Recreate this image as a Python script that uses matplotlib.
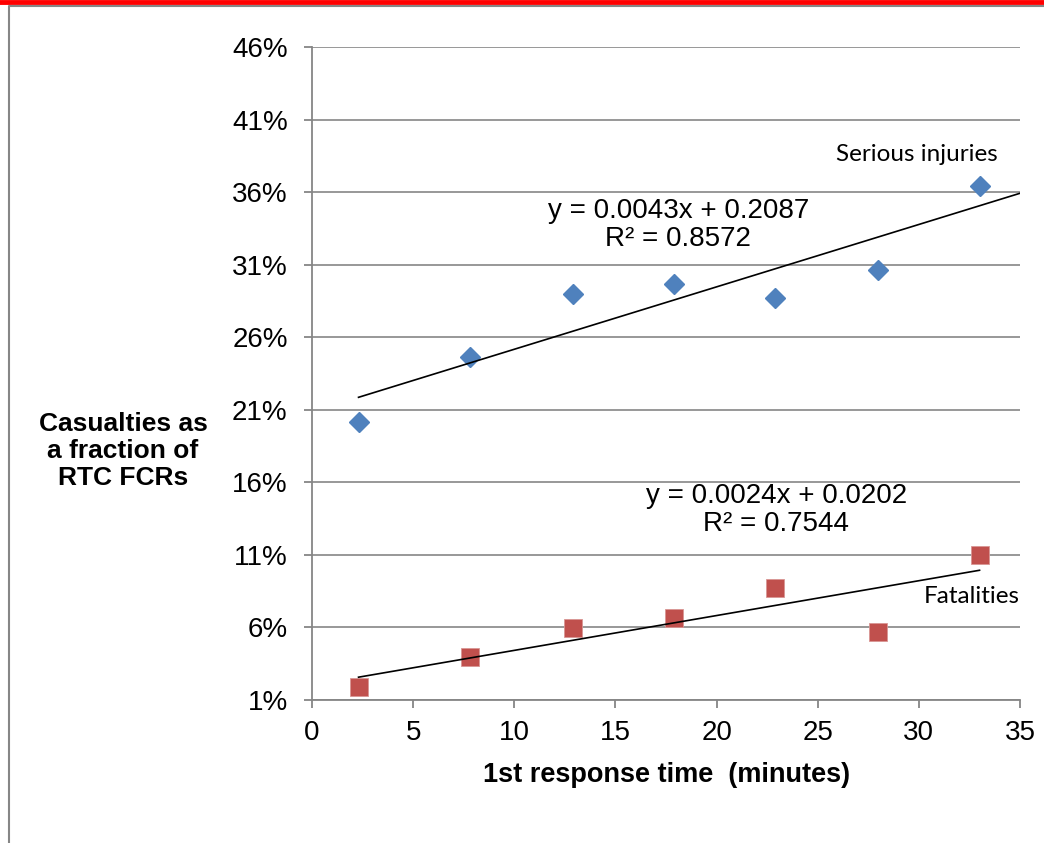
import matplotlib.pyplot as plt
from matplotlib.lines import Line2D
from matplotlib.ticker import PercentFormatter, MultipleLocator

# data
response_time = [2.3, 7.8, 12.9, 17.9, 22.9, 28.0, 33.0]
serious_injuries = [0.2016, 0.2464, 0.2898, 0.2967, 0.2870, 0.3063, 0.3642]
fatalities = [0.019, 0.0396, 0.0596, 0.0665, 0.0872, 0.0568, 0.110]

# linear trendlines as printed on the chart
serious_fit = (0.0043, 0.2087)
fatal_fit = (0.0024, 0.0202)
serious_fit_x = [2.3, 35]
fatal_fit_x = [2.3, 33]

serious_label = "y = 0.0043x + 0.2087\nR² = 0.8572"
fatal_label = "y = 0.0024x + 0.0202\nR² = 0.7544"

y_ticks = [0.01, 0.06, 0.11, 0.16, 0.21, 0.26, 0.31, 0.36, 0.41, 0.46]

grey = "#868686"
blue = "#4F81BD"
red = "#C0504D"

plt.rcParams['font.family'] = ['Liberation Sans', 'DejaVu Sans']

W, H = 1044, 843
fig = plt.figure(figsize=(W / 100, H / 100), dpi=100)
ax = fig.add_axes([312 / W, 1 - 700 / H, (1020 - 312) / W, (700 - 47) / H])

# frame decoration around the chart area
fig.add_artist(Line2D([0, 1], [1 - 2 / H, 1 - 2 / H], color="#FF0000", lw=3.5,
                      transform=fig.transFigure))
fig.add_artist(Line2D([8.5 / W, 8.5 / W, 1], [0, 1 - 6 / H, 1 - 6 / H],
                      color=grey, lw=1.5, transform=fig.transFigure))

ax.set_xlim(0, 35)
ax.set_ylim(0.01, 0.46)
ax.set_yticks(y_ticks)
ax.xaxis.set_major_locator(MultipleLocator(5))
ax.yaxis.set_major_formatter(PercentFormatter(1.0, decimals=0))

ax.grid(axis="y", color=grey, lw=1.2)
ax.set_axisbelow(True)
for side in ["top", "right"]:
    ax.spines[side].set_visible(False)
for side in ["left", "bottom"]:
    ax.spines[side].set_color(grey)
    ax.spines[side].set_linewidth(1.3)
ax.tick_params(axis="both", colors=grey, length=5.5, width=1.3, labelsize=20,
               labelcolor="black")
ax.tick_params(axis="y", pad=12)
ax.tick_params(axis="x", pad=9)

ax.plot(response_time, serious_injuries, linestyle="none", marker="D",
        markersize=10.5, color=blue, markeredgecolor=blue, zorder=3)
ax.plot(response_time, fatalities, linestyle="none", marker="s",
        markersize=12.5, color=red, markeredgecolor="#D99694", markeredgewidth=0.6,
        zorder=3)

ax.plot(serious_fit_x, [serious_fit[0] * x + serious_fit[1] for x in serious_fit_x],
        color="black", lw=1.2, zorder=4)
ax.plot(fatal_fit_x, [fatal_fit[0] * x + fatal_fit[1] for x in fatal_fit_x],
        color="black", lw=1.2, zorder=4)

ax.text(18.1, 0.337, serious_label, ha="center", va="center", fontsize=20,
        linespacing=1.1)
ax.text(22.96, 0.141, fatal_label, ha="center", va="center", fontsize=20,
        linespacing=1.1)
ax.text(29.9, 0.3856, "Serious injuries", ha="center", va="center", fontsize=17.5,
        family="Lato")
ax.text(32.6, 0.081, "Fatalities", ha="center", va="center", fontsize=17.5,
        family="Lato")

fig.text(123 / W, 1 - 451 / H, "Casualties as\na fraction of\nRTC FCRs",
         ha="center", va="center", fontsize=19, fontweight="bold",
         multialignment="center", linespacing=1.18)
fig.text(667 / W, 1 - 775 / H, "1st response time  (minutes)", ha="center",
         va="center", fontsize=19.5, fontweight="bold")

fig.savefig("out.png", dpi=100)
